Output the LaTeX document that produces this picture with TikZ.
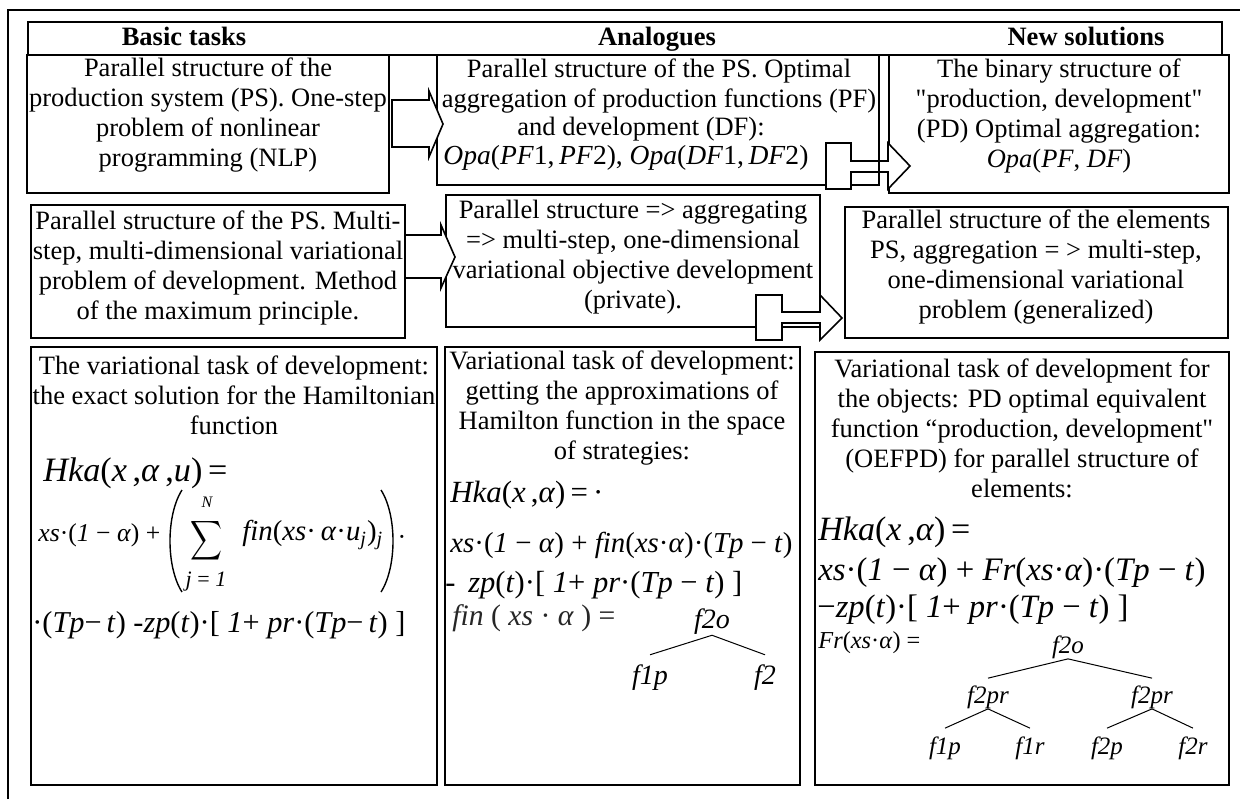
\documentclass[tikz,border=0pt]{standalone}
\usepackage{fontspec}
\setmainfont{Liberation Serif}
\usetikzlibrary{fit,calc}
\newcommand\fitto[2]{\resizebox{#1}{!}{#2}}
\newcommand\qq{\textquotedbl}

\begin{document}
\begin{tikzpicture}[x=0.5pt,y=-0.5pt,
  panel/.style={draw, line width=0.9pt, inner sep=0pt, outer sep=0pt},
  edgeline/.style={line width=0.9pt},
  txt/.style={align=center, inner sep=0pt, font=\fontsize{13.25}{15}\selectfont},
  headtxt/.style={inner sep=0pt, anchor=base, font=\fontsize{13.25}{15}\selectfont\bfseries},
  formula/.style={anchor=west, inner sep=0pt, font=\fontsize{13}{15}\selectfont},
  leaf/.style={inner sep=0pt, font=\fontsize{12.5}{14}\selectfont\itshape},
  bigleaf/.style={inner sep=0pt, font=\fontsize{14}{16}\selectfont\itshape},
  branch/.style={line width=0.5pt},
  parenline/.style={line width=0.7pt},
  blockarrow/.style={draw, fill=white, line width=0.8pt, line join=miter},
  frameline/.style={line width=0.75pt}]

\useasboundingbox (0,0) rectangle (1240,799);
\fill[white] (0,0) rectangle (1240,799);

% outer frame (left and top)
\draw[frameline] (8,799) -- (8,10) -- (1240,10);

% column headers
\node[panel, fit={(28,22) (1222,55)}] (head) {};
\node[headtxt] (h1) at (184,45) {Basic tasks};
\node[headtxt] (h2) at (657,45) {Analogues};
\node[headtxt] (h3) at (1086,45) {New solutions};

% panels
\node[panel, fit={(27,55) (389,193)}] (b11) {};
\node[panel, fit={(437,55) (879,185)}] (b12) {};
\node[panel, fit={(889,55) (1229,193)}] (b13) {};
\node[panel, fit={(31,205) (405,338)}] (b21) {};
\node[panel, fit={(446,195) (820,327)}] (b22) {};
\node[panel, fit={(845,207) (1228,338)}] (b23) {};
\node[panel, fit={(31,347) (437,785)}] (b31) {};
\node[panel, fit={(445,347) (800,785)}] (b32) {};
\node[panel, fit={(815,352) (1229,785)}] (b33) {};

% row 1 texts
\node[txt] (t11) at (208,115) {Parallel structure of the\\production system (PS). One-step\\problem of nonlinear\\programming (NLP)};
\node[txt] (t12) at (659,86) {Parallel structure of the PS. Optimal\\aggregation of production functions (PF)};
\node[txt] (t12b) at (641,129) {and development (DF):};
\node[formula] (t12c) at (443,158) {\fitto{182.5pt}{\fontsize{13.25}{15}\selectfont\textit{Opa}(\textit{PF}1,\,\textit{PF}2), \textit{Opa}(\textit{DF}1,\,\textit{DF}2)}};
\node[txt] (t13) at (1059,116) {The binary structure of\\\qq production, development\qq\\(PD) Optimal aggregation:\\\textit{Opa}(\textit{PF}, \textit{DF})};

% row 2 texts
\node[txt] (t21) at (218,268) {Parallel structure of the PS. Multi-\\step, multi-dimensional variational\\problem of development. Method\\of the maximum principle.};
\node[txt] (t22) at (633,257) {Parallel structure => aggregating\\=> multi-step, one-dimensional\\variational objective development\\(private).};
\node[txt] (t23) at (1036,267) {Parallel structure of the elements\\PS, aggregation = > multi-step,\\one-dimensional variational\\problem (generalized)};

% row 3 texts
\node[txt] (t31) at (234,395) {The variational task of development:\\the exact solution for the Hamiltonian\\function};
\node[txt] (t32) at (622,408) {Variational task of development:\\getting the approximations of\\Hamilton function in the space\\of strategies:};
\node[txt] (t33) at (1022,428) {Variational task of development for\\the objects: PD optimal equivalent\\function “production, development\qq\\(OEFPD) for parallel structure of\\elements:};

% exact Hamiltonian
\node[formula] (f1a) at (43,473) {\fitto{92pt}{\textit{Hka}(\textit{x}\,,\textit{α}\,,\textit{u})\,=}};
\node[formula] (f1b) at (38,535) {\fitto{61pt}{\textit{xs}·(\textit{1} − \textit{α}) +}};
\draw[parenline] (182,490) .. controls (166,515) and (166,567) .. (182,592);
\node[inner sep=0pt] (sig) at (206,541) {\resizebox*{16pt}{22pt}{$\displaystyle\sum$}};
\node[inner sep=0pt, font=\fontsize{8}{9}\selectfont\itshape] (supN) at (207,502) {N};
\node[inner sep=0pt, font=\fontsize{11}{12}\selectfont] (subj) at (206,582) {\textit{j} = \textit{1}};
\node[formula] (f1fin) at (242,535) {\fitto{70.5pt}{\textit{fin}(\textit{xs}·\,\textit{α}·\textit{u}\textsubscript{\textit{j}})\textsubscript{\textit{j}}}};
\draw[parenline] (381,490) .. controls (397,515) and (397,567) .. (381,592);
\node[inner sep=0pt, font=\fontsize{13}{15}\selectfont] (dot1) at (402,540) {·};
\node[formula] (f1c) at (32,625) {\fitto{186.5pt}{·(\textit{Tp}−\,\textit{t}) -\textit{zp}(\textit{t})·[ \textit{1}+ \textit{pr}·(\textit{Tp}−\,\textit{t}) ]}};

% approximated Hamiltonian
\node[formula] (f2a) at (450,495) {\fitto{76.5pt}{\textit{Hka}(\textit{x}\,,\textit{α})\,=\,·}};
\node[formula] (f2b) at (450,545) {\fitto{171pt}{\textit{xs}·(\textit{1} − \textit{α}) + \textit{fin}(\textit{xs}·\textit{α})·(\textit{Tp} − \textit{t})}};
\node[formula] (f2c) at (445,585) {\fitto{148.5pt}{-\, \textit{zp}(\textit{t})·[ \textit{1}+ \textit{pr}·(\textit{Tp} − \textit{t}) ]}};
\node[formula, text=black!85] (f2d) at (452,618) {\fitto{81.5pt}{\textit{fin} ( \textit{xs} · \textit{α} ) =}};
\node[bigleaf] (a2o) at (712,622) {f2o};
\node[bigleaf] (a1p) at (650,678) {f1p};
\node[bigleaf] (a2) at (765,678) {f2};
\draw[branch] (a2o.south) -- ([yshift=5pt]a1p.north);
\draw[branch] (a2o.south) -- ([yshift=5pt]a2.north);

% equivalent function of the objects
\node[formula] (f3a) at (818,532) {\fitto{76pt}{\textit{Hka}(\textit{x}\,,\textit{α})\,=}};
\node[formula] (f3b) at (818,573) {\fitto{193.5pt}{\textit{xs}·(\textit{1} − \textit{α}) + \textit{Fr}(\textit{xs}·\textit{α})·(\textit{Tp} − \textit{t})}};
\node[formula] (f3c) at (817,610) {\fitto{155.5pt}{−\textit{zp}(\textit{t})·[ \textit{1}+ \textit{pr}·(\textit{Tp} − \textit{t}) ]}};
\node[formula] (f3d) at (818,643) {\fitto{51pt}{\textit{Fr}(\textit{xs}·\textit{α}) =}};
\node[leaf] (b2o) at (1068,647) {f2o};
\node[leaf] (b2pl) at (988,697) {f2pr};
\node[leaf] (b2pr) at (1152,697) {f2pr};
\node[leaf] (b1p) at (945,748) {f1p};
\node[leaf] (b1r) at (1030,748) {f1r};
\node[leaf] (b2p) at (1107,748) {f2p};
\node[leaf] (b2r) at (1193,748) {f2r};
\draw[branch] (b2o.south) -- ([yshift=3.5pt]b2pl.north);
\draw[branch] (b2o.south) -- ([yshift=3.5pt]b2pr.north);
\draw[branch] (b2pl.south) -- ([yshift=4pt]b1p.north);
\draw[branch] (b2pl.south) -- ([yshift=4pt]b1r.north);
\draw[branch] (b2pr.south) -- ([yshift=4pt]b2p.north);
\draw[branch] (b2pr.south) -- ([yshift=4pt]b2r.north);

% block arrows between columns
\draw[blockarrow] ($(b11.east)+(3,-24)$) -- ++(37,0) -- ++(0,-9) -- ++(14,33)
  -- ++(-14,33) -- ++(0,-10) -- ++(-37,0) -- cycle;
\draw[blockarrow] ($(b12.south east)+(-53,-42)$) -- ++(25,0) -- ++(0,18) -- ++(37,0)
  -- ++(0,-18) -- ++(22,23) -- ++(-22,23) -- ++(0,-17) -- ++(-37,0) -- ++(0,17)
  -- ++(-25,0) -- cycle;
\draw[edgeline] (b12.north east) -- (b12.south east);
\draw[blockarrow] ($(b21.east)+(0,-36.5)$) -- ++(36,0) -- ++(0,-10) -- ++(14,32)
  -- ++(-14,31) -- ++(0,-10) -- ++(-36,0) -- cycle;
\draw[blockarrow] ($(b22.south east)+(-64,-32)$) -- ++(26,0) -- ++(0,17) -- ++(38,0)
  -- ++(0,-17) -- ++(22,23) -- ++(-22,22) -- ++(0,-17) -- ++(-38,0) -- ++(0,17)
  -- ++(-26,0) -- cycle;
\end{tikzpicture}
\end{document}
